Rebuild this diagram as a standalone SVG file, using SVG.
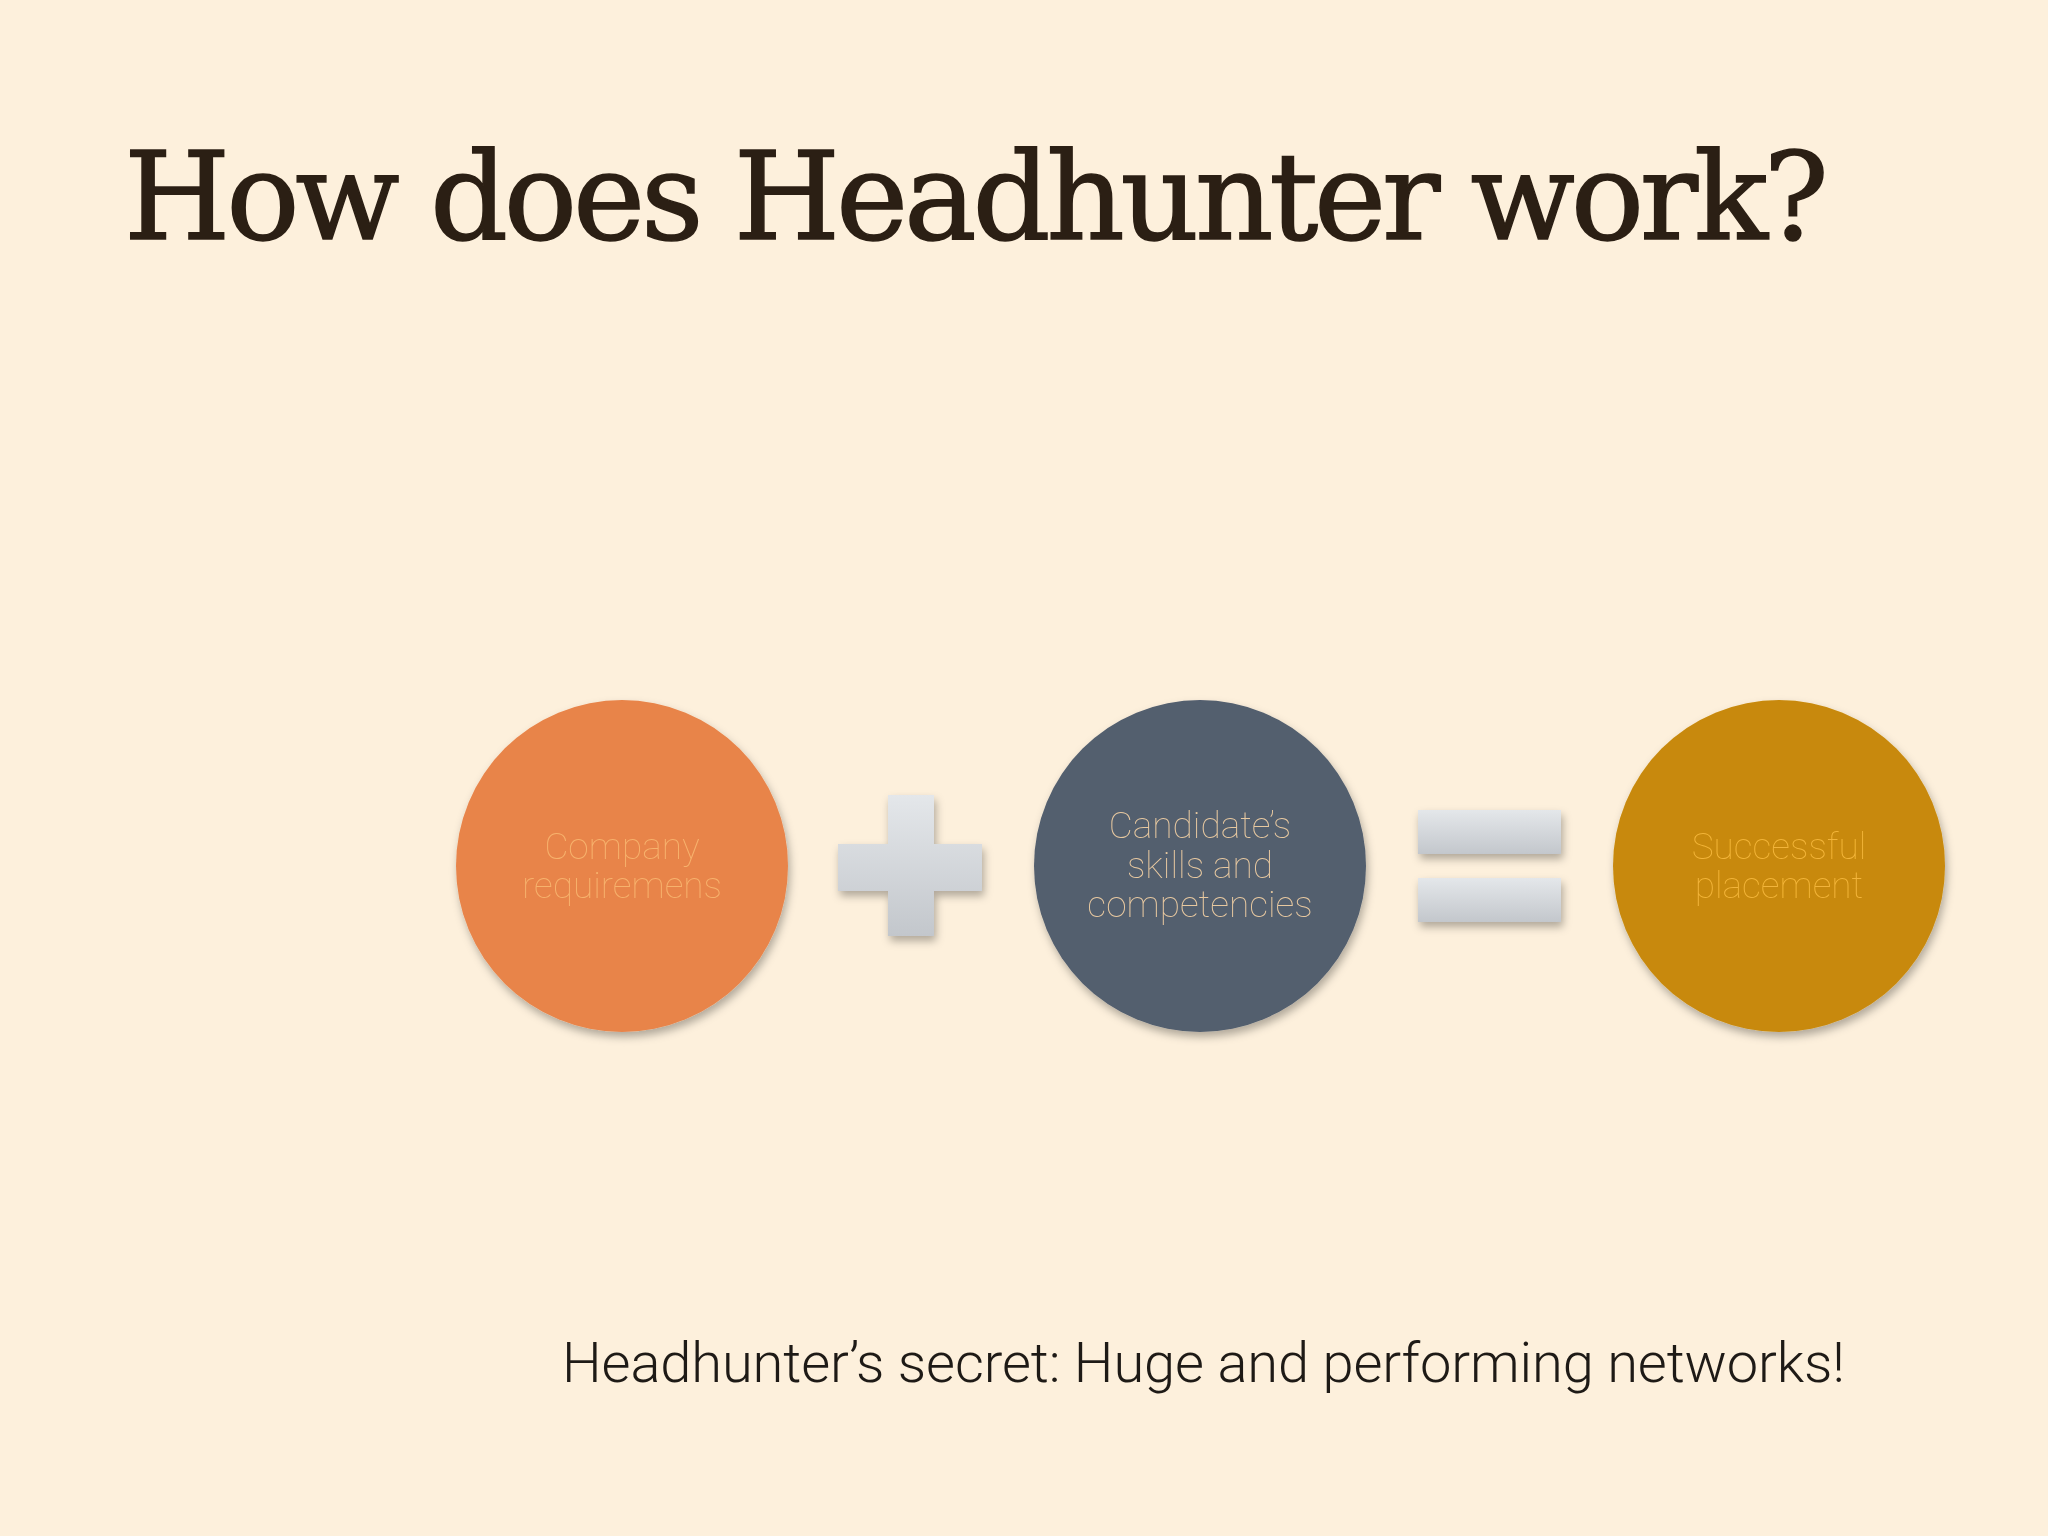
<svg xmlns="http://www.w3.org/2000/svg" width="2048" height="1536" viewBox="0 0 2048 1536">
<defs>
<linearGradient id="g" x1="0" y1="0" x2="0" y2="1"><stop offset="0" stop-color="#e4e7ea"/><stop offset="1" stop-color="#c3c7cc"/></linearGradient>
<filter id="s" x="-20%" y="-20%" width="140%" height="140%"><feDropShadow dx="2" dy="5" stdDeviation="4" flood-color="#000" flood-opacity="0.3"/></filter>
</defs>
<style>
.c{font-family:Roboto,"Liberation Sans",sans-serif;font-weight:100;font-size:37px;text-anchor:middle}
</style>
<rect width="2048" height="1536" fill="#fdf0dc"/>
<text x="124" y="239" font-family="'DejaVu Serif',serif" font-size="122" fill="#2b1f14" stroke="#2b1f14" stroke-width="1.5" textLength="1705">How does Headhunter work?</text>
<g id="company" filter="url(#s)"><circle cx="622" cy="866" r="166" fill="#e8844a"/>
<text class="c" fill="#f7b26c"><tspan x="622" y="859">Company</tspan><tspan x="622" y="898">requiremens</tspan></text></g>
<g id="plus" filter="url(#s)"><path d="M888 795h46v49h48v47h-48v45h-46v-45h-50v-47h50z" fill="url(#g)"/></g>
<g id="candidate" filter="url(#s)"><circle cx="1200" cy="866" r="166" fill="#525e6e"/>
<text class="c" fill="#e8c9a0"><tspan x="1200" y="838">Candidate’s</tspan><tspan x="1200" y="878">skills and</tspan><tspan x="1200" y="917">competencies</tspan></text></g>
<g id="equals" filter="url(#s)"><rect x="1418" y="810" width="143" height="44" fill="url(#g)"/><rect x="1418" y="878" width="143" height="44" fill="url(#g)"/></g>
<g id="placement" filter="url(#s)"><circle cx="1779" cy="866" r="166" fill="#c8890a"/>
<text class="c" fill="#f2b43a"><tspan x="1779" y="859">Successful</tspan><tspan x="1779" y="898">placement</tspan></text></g>
<g id="connectors"/>
<text x="562" y="1382" font-family="Roboto,'Liberation Sans',sans-serif" font-weight="300" font-size="56" fill="#1e1a16" textLength="1283">Headhunter’s secret: Huge and performing networks!</text>
</svg>
